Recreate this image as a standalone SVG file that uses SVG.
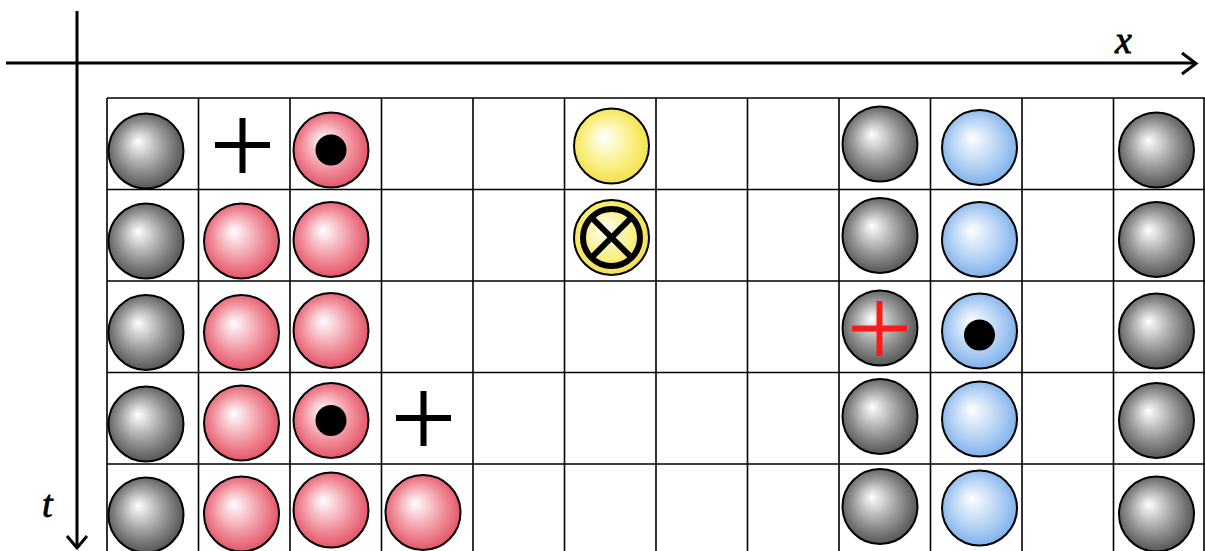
<svg xmlns="http://www.w3.org/2000/svg" width="1205" height="551" viewBox="0 0 1205 551">
<defs>
<radialGradient id="gGrey" cx="0.5" cy="0.5" r="0.62" fx="0.39" fy="0.37">
<stop offset="0" stop-color="#ffffff"/>
<stop offset="0.5" stop-color="#979797"/>
<stop offset="1" stop-color="#383838"/>
</radialGradient>
<radialGradient id="gRed" cx="0.5" cy="0.5" r="0.62" fx="0.39" fy="0.37">
<stop offset="0" stop-color="#ffffff"/>
<stop offset="0.55" stop-color="#f08c99"/>
<stop offset="1" stop-color="#dc3850"/>
</radialGradient>
<radialGradient id="gBlue" cx="0.5" cy="0.5" r="0.62" fx="0.39" fy="0.37">
<stop offset="0" stop-color="#ffffff"/>
<stop offset="0.55" stop-color="#afcef3"/>
<stop offset="1" stop-color="#66a2e6"/>
</radialGradient>
<radialGradient id="gYellow" cx="0.5" cy="0.5" r="0.62" fx="0.39" fy="0.37">
<stop offset="0" stop-color="#ffffff"/>
<stop offset="0.55" stop-color="#f9ef80"/>
<stop offset="1" stop-color="#eed830"/>
</radialGradient>
</defs>
<style>
.grid{stroke:#000;stroke-width:1.6;fill:none}
.ball{stroke:#000;stroke-width:2}
.grey{fill:url(#gGrey)}
.red{fill:url(#gRed)}
.blue{fill:url(#gBlue)}
.yellow{fill:url(#gYellow)}
.dot{fill:#000}
.plus{stroke:#000;stroke-width:6;fill:none}
.rplus{stroke:#ff1a1a;stroke-width:6;fill:none}
.axis{stroke:#000;stroke-width:3;fill:none}
.lbl{font-family:"Liberation Serif",serif;font-style:italic;font-size:38px;fill:#000;stroke:#000;stroke-width:0.8}
</style>
<rect width="1205" height="551" fill="#fff"/>
<g id="grid" class="grid">
<path d="M107,98V560M198.5,98V560M290,98V560M381.5,98V560M473,98V560M564.5,98V560M656,98V560M747.5,98V560M839,98V560M930.5,98V560M1022,98V560M1113.5,98V560M1204,98V560"/>
<path d="M107,98H1205M107,189.5H1205M107,281H1205M107,372.5H1205M107,464H1205"/>
</g>
<g id="connectors">
<path class="axis" d="M6,63H1195"/>
<path class="axis" d="M1182,53L1196,63.5L1182,74"/>
<path class="axis" d="M77,11V548"/>
<path class="axis" d="M67,536L77,548L87,536"/>
</g>
<g id="label-x"><text class="lbl" x="1115" y="53">x</text></g>
<g id="label-t"><text class="lbl" x="42" y="517">t</text></g>
<g id="n-r1c1"><circle class="ball grey" cx="146" cy="151" r="37.5"/></g>
<g id="n-r1c2"><path class="plus" d="M215,145H270M242.5,118V173"/></g>
<g id="n-r1c3"><circle class="ball red" cx="331" cy="150" r="37.5"/><circle class="dot" cx="331" cy="150" r="15.5"/></g>
<g id="n-r1c6"><circle class="ball yellow" cx="611.5" cy="146" r="37.5"/></g>
<g id="n-r1c9"><circle class="ball grey" cx="880" cy="144" r="37.5"/></g>
<g id="n-r1c10"><circle class="ball blue" cx="979.5" cy="147.5" r="37.5"/></g>
<g id="n-r1c12"><circle class="ball grey" cx="1156.5" cy="150" r="37.5"/></g>
<g id="n-r2c1"><circle class="ball grey" cx="146" cy="241" r="37.5"/></g>
<g id="n-r2c2"><circle class="ball red" cx="241.5" cy="241" r="37.5"/></g>
<g id="n-r2c3"><circle class="ball red" cx="331" cy="239.5" r="37.5"/></g>
<g id="n-r2c6"><circle class="ball yellow" cx="611.5" cy="237.5" r="37.5"/><circle cx="611.5" cy="237.5" r="28.5" fill="none" stroke="#000" stroke-width="6"/><path d="M591.5,217.5L631.5,257.5M631.5,217.5L591.5,257.5" stroke="#000" stroke-width="6"/></g>
<g id="n-r2c9"><circle class="ball grey" cx="880" cy="235.5" r="37.5"/></g>
<g id="n-r2c10"><circle class="ball blue" cx="979.5" cy="239.5" r="37.5"/></g>
<g id="n-r2c12"><circle class="ball grey" cx="1156.5" cy="239.5" r="37.5"/></g>
<g id="n-r3c1"><circle class="ball grey" cx="146" cy="332.5" r="37.5"/></g>
<g id="n-r3c2"><circle class="ball red" cx="241.5" cy="332.5" r="37.5"/></g>
<g id="n-r3c3"><circle class="ball red" cx="331" cy="330.5" r="37.5"/></g>
<g id="n-r3c9"><circle class="ball grey" cx="880" cy="328" r="37.5"/><path class="rplus" d="M852,328.5H907M879.5,301V356"/></g>
<g id="n-r3c10"><circle class="ball blue" cx="979.5" cy="331" r="37.5"/><circle class="dot" cx="979.5" cy="335" r="15.5"/></g>
<g id="n-r3c12"><circle class="ball grey" cx="1156.5" cy="331" r="37.5"/></g>
<g id="n-r4c1"><circle class="ball grey" cx="146" cy="424" r="37.5"/></g>
<g id="n-r4c2"><circle class="ball red" cx="241.5" cy="423" r="37.5"/></g>
<g id="n-r4c3"><circle class="ball red" cx="331" cy="420.5" r="37.5"/><circle class="dot" cx="331" cy="420.5" r="15.5"/></g>
<g id="n-r4c4"><path class="plus" d="M396,418H451M423.5,391V446"/></g>
<g id="n-r4c9"><circle class="ball grey" cx="880" cy="416.5" r="37.5"/></g>
<g id="n-r4c10"><circle class="ball blue" cx="979.5" cy="419" r="37.5"/></g>
<g id="n-r4c12"><circle class="ball grey" cx="1156.5" cy="420.5" r="37.5"/></g>
<g id="n-r5c1"><circle class="ball grey" cx="146" cy="515" r="37.5"/></g>
<g id="n-r5c2"><circle class="ball red" cx="241.5" cy="514" r="37.5"/></g>
<g id="n-r5c3"><circle class="ball red" cx="331" cy="510" r="37.5"/></g>
<g id="n-r5c4"><circle class="ball red" cx="423" cy="512.5" r="37.5"/></g>
<g id="n-r5c9"><circle class="ball grey" cx="880" cy="506.5" r="37.5"/></g>
<g id="n-r5c10"><circle class="ball blue" cx="979.5" cy="508" r="37.5"/></g>
<g id="n-r5c12"><circle class="ball grey" cx="1156.5" cy="514" r="37.5"/></g>
</svg>
